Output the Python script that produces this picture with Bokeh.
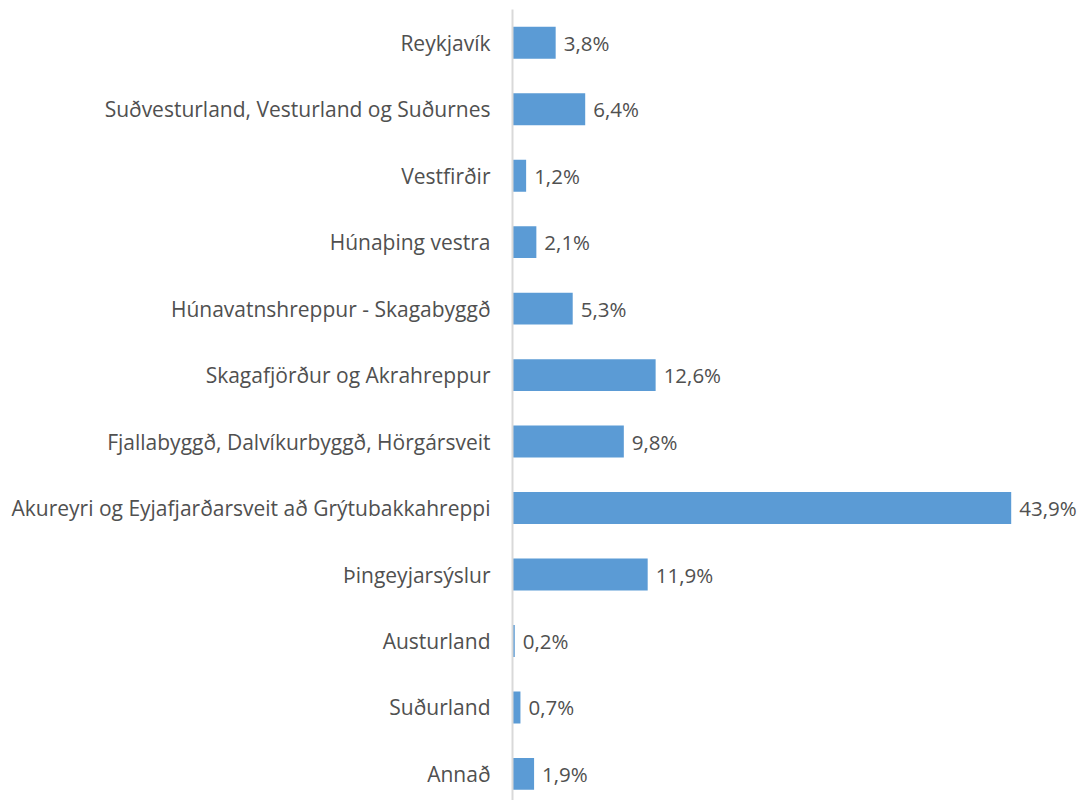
from bokeh.plotting import figure
from bokeh.models import Range1d, FixedTicker, ColumnDataSource
from bokeh.embed import file_html
from bokeh.resources import INLINE
from bokeh.core.properties import value

categories = [
    "Reykjavík",
    "Suðvesturland, Vesturland og Suðurnes",
    "Vestfirðir",
    "Húnaþing vestra",
    "Húnavatnshreppur - Skagabyggð",
    "Skagafjörður og Akrahreppur",
    "Fjallabyggð, Dalvíkurbyggð, Hörgársveit",
    "Akureyri og Eyjafjarðarsveit að Grýtubakkahreppi",
    "Þingeyjarsýslur",
    "Austurland",
    "Suðurland",
    "Annað",
]
values = [3.8, 6.4, 1.2, 2.1, 5.3, 12.6, 9.8, 43.9, 11.9, 0.2, 0.7, 1.9]

FONT = "Open Sans"
TEXT_COLOR = "#505050"
BAR_COLOR = "#5B9BD5"

pos = list(range(len(categories)))
labels = [f"{v:.1f}%".replace(".", ",") for v in values]
src = ColumnDataSource(dict(y=pos, v=values, lab=labels))

p = figure(width=1080, height=800, output_backend="svg", toolbar_location=None,
           x_range=Range1d(0, 50.0), y_range=Range1d(11.4, -0.5),
           min_border_left=512, min_border_right=0, min_border_top=9, min_border_bottom=0)
p.outline_line_color = None
p.background_fill_color = "white"
p.border_fill_color = "white"
p.xgrid.visible = False
p.ygrid.visible = False
p.xaxis.visible = False

ya = p.yaxis[0]
ya.ticker = FixedTicker(ticks=pos)
ya.major_label_overrides = {i: c for i, c in enumerate(categories)}
ya.major_tick_line_color = None
ya.minor_tick_line_color = None
ya.axis_line_color = "#D9D9D9"
ya.axis_line_width = 2
ya.major_label_standoff = 16
ya.major_label_text_font = FONT
ya.major_label_text_font_size = "21px"
ya.major_label_text_color = TEXT_COLOR

p.hbar(y="y", right="v", left=0, height=0.48, source=src,
       fill_color=BAR_COLOR, line_color=None)
p.text(x="v", y="y", text="lab", source=src, x_offset=8,
       text_baseline="middle", text_align="left",
       text_font=value(FONT), text_font_size="20.5px", text_color=TEXT_COLOR)

open("out.html", "w").write(file_html(p, INLINE))
